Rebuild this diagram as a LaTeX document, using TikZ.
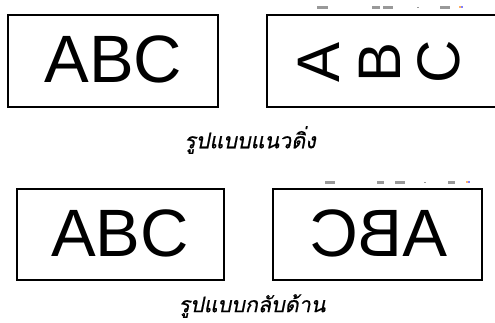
\documentclass[tikz,border=0pt]{standalone}
\usepackage{fontspec}
\setmainfont{Liberation Sans}
\newfontfamily\thaifont[Script=Thai,FakeSlant=0.2,FakeBold=0.6]{Loma}
\begin{document}
\begin{tikzpicture}[x=1pt,y=-1pt,
  frame/.style={draw=black,line width=1.6pt,inner sep=0pt},
  big/.style={font=\fontsize{67}{67}\selectfont, inner sep=0pt},
  rot/.style={font=\fontsize{60}{60}\selectfont, inner sep=0pt, rotate=90},
  thcap/.style={font=\thaifont\fontsize{21.5}{24}\selectfont, inner sep=0pt},
  speck/.style={fill=black!40,draw=none}]
\useasboundingbox (0,0) rectangle (495,322);
\begin{scope}
\clip (0,0) rectangle (495,322);
% top row
\node[frame, minimum width=210pt, minimum height=92pt] (b1) at (113,61) {};
\node[big] (t1) at (113.5,59) {ABC};
\coordinate (r1a) at (500,15);
\coordinate (r1b) at (267,15);
\coordinate (r1c) at (267,107);
\coordinate (r1d) at (500,107);
\draw[line width=1.6pt] (r1a) -- (r1b) -- (r1c) -- (r1d);
\node[rot] (ra) at (319,62) {A};
\node[rot] (rb) at (380,62) {B};
\node[rot] (rc) at (439,62) {C};
\node[thcap] (c1) at (250,140) {รูปแบบแนวดิ่ง};
% specks above top-right
\fill[speck] (317,6) rectangle (328,8.5);
\fill[speck] (372,6) rectangle (380,8.5);
\fill[speck] (383,6) rectangle (393,8.5);
\fill[speck] (417,6.5) rectangle (419,8);
\fill[speck] (440,6) rectangle (450,8.5);
\fill[orange!60] (459,5.5) rectangle (461,8);
\fill[blue!50] (461,5.5) rectangle (463,8);
% bottom row
\node[frame, minimum width=207pt, minimum height=91pt] (b2) at (120.5,234.5) {};
\node[big] (t2) at (120,233) {ABC};
\node[frame, minimum width=209pt, minimum height=91pt] (b3) at (377.5,234.5) {};
\node[big, xscale=-1] (t3) at (378.5,233) {ABC};
\node[thcap] (c2) at (252,306) {รูปแบบกลับด้าน};
% specks above bottom-right
\fill[speck] (325,181) rectangle (335,183.5);
\fill[speck] (377,181) rectangle (384,183.5);
\fill[speck] (395,181) rectangle (405,183.5);
\fill[speck] (424,181.5) rectangle (426,183);
\fill[speck] (448,181) rectangle (455,183.5);
\fill[orange!60] (466,180.5) rectangle (468,183);
\fill[blue!50] (468,180.5) rectangle (470,183);
\end{scope}
\end{tikzpicture}
\end{document}
